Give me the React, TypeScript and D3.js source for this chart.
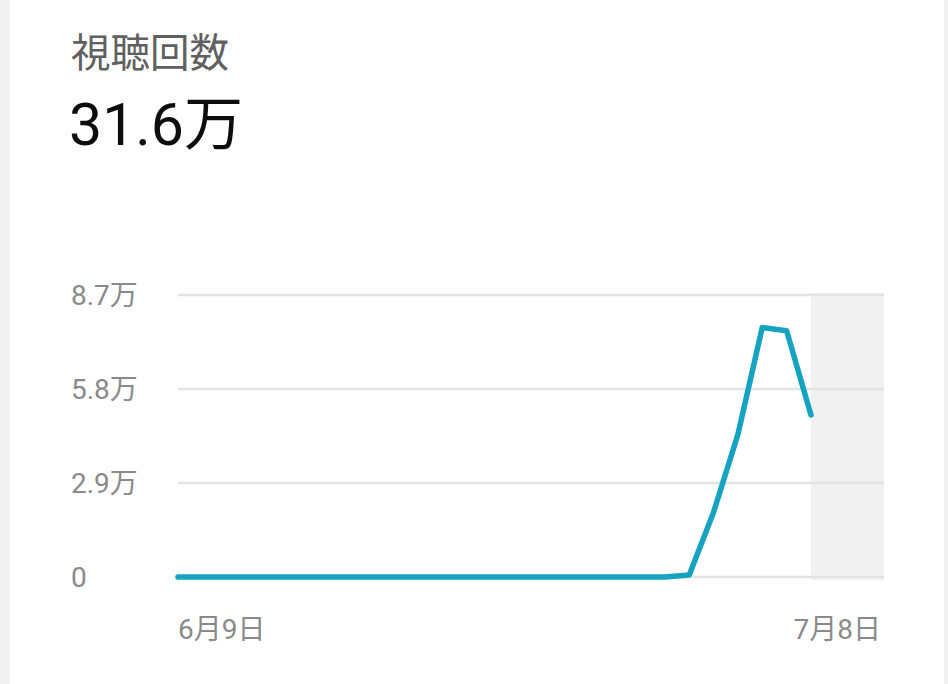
import * as React from "react";
import * as d3 from "d3";

// daily views, 6月9日 .. 7月5日 (data after that not in yet)
const views = [
  0, 0, 0, 0, 0, 0, 0, 0, 0, 0,
  0, 0, 0, 0, 0, 0, 0, 0, 0, 0,
  0, 600, 20000, 44000, 77000, 76000, 50000,
];
const yTicks = [0, 29000, 58000, 87000];
const yTickLabels = ["0", "2.9万", "5.8万", "8.7万"];
const xTickLabels = ["6月9日", "7月8日"];
const startDay = new Date(2024, 5, 9);
const endDay = new Date(2024, 6, 8);
const title = "視聴回数";
const total = "31.6万";

const FONT = "Roboto, 'Noto Sans CJK JP', sans-serif";

export default function App() {
  const ref = React.useRef<SVGSVGElement | null>(null);

  React.useEffect(() => {
    const width = 948;
    const height = 684;
    const svg = d3.select(ref.current);
    svg.selectAll("*").remove();

    svg.append("rect").attr("width", width).attr("height", height).attr("fill", "#fff");
    // grey edges of the card
    svg.append("rect").attr("x", 0).attr("width", 10).attr("height", height).attr("fill", "#f1f1f1");
    svg.append("rect").attr("x", 944).attr("width", 4).attr("height", height).attr("fill", "#f1f1f1");

    svg
      .append("text")
      .attr("x", 71)
      .attr("y", 67)
      .attr("font-family", FONT)
      .attr("font-size", 39.5)
      .attr("fill", "#606060")
      .text(title);

    svg
      .append("text")
      .attr("x", 69)
      .attr("y", 145)
      .attr("font-family", FONT)
      .attr("font-size", 59)
      .attr("fill", "#0d0d0d")
      .text(total);

    const x = d3.scaleTime().domain([startDay, endDay]).range([178, 884]);
    const y = d3.scaleLinear().domain([0, 87000]).range([577, 295]);

    const data = views.map((v, i) => ({ date: d3.timeDay.offset(startDay, i), v }));
    const lastDay = data[data.length - 1].date;

    // pending-data band
    svg
      .append("rect")
      .attr("x", x(lastDay))
      .attr("y", y(87000) - 2)
      .attr("width", x(endDay) - x(lastDay))
      .attr("height", y(0) - y(87000) + 5)
      .attr("fill", "#f1f1f1");

    const grid = svg.append("g");
    grid
      .selectAll("line")
      .data(yTicks)
      .enter()
      .append("line")
      .attr("x1", x(startDay))
      .attr("x2", x(endDay))
      .attr("y1", (d) => y(d))
      .attr("y2", (d) => y(d))
      .attr("stroke", "#e3e3e3")
      .attr("stroke-width", 2.5);

    grid
      .selectAll("text")
      .data(yTicks)
      .enter()
      .append("text")
      .attr("x", 71)
      .attr("y", (d) => y(d) + 10)
      .attr("font-family", FONT)
      .attr("font-size", 28)
      .attr("fill", "#8a8a8a")
      .text((_, i) => yTickLabels[i]);

    svg
      .append("text")
      .attr("x", x(startDay))
      .attr("y", 639)
      .attr("font-family", FONT)
      .attr("font-size", 28)
      .attr("fill", "#8a8a8a")
      .text(xTickLabels[0]);

    svg
      .append("text")
      .attr("x", x(endDay) - 3)
      .attr("y", 639)
      .attr("text-anchor", "end")
      .attr("font-family", FONT)
      .attr("font-size", 28)
      .attr("fill", "#8a8a8a")
      .text(xTickLabels[1]);

    const line = d3
      .line<{ date: Date; v: number }>()
      .x((d) => x(d.date))
      .y((d) => y(d.v));

    svg
      .append("path")
      .datum(data)
      .attr("d", line)
      .attr("fill", "none")
      .attr("stroke", "#15a3c1")
      .attr("stroke-width", 5.5)
      .attr("stroke-linejoin", "round")
      .attr("stroke-linecap", "round");
  }, []);

  return (
    <svg
      ref={ref}
      width={948}
      height={684}
      style={{ position: "absolute", left: 0, top: 0, display: "block" }}
    />
  );
}
